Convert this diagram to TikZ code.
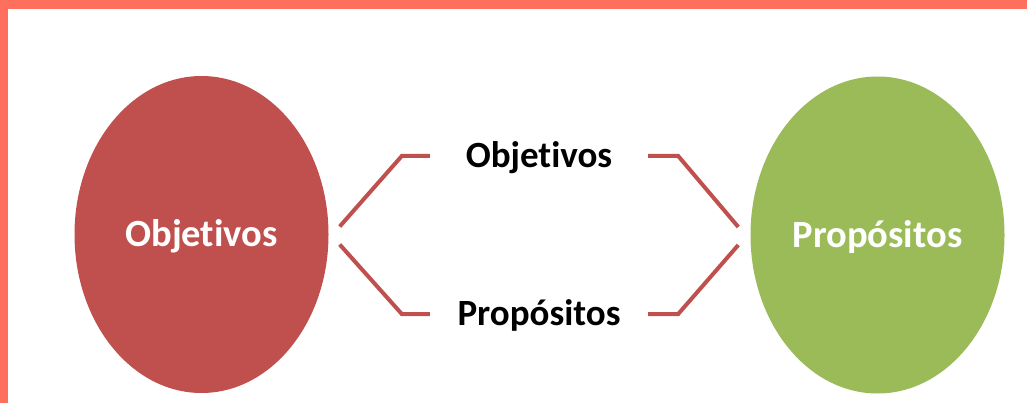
\documentclass[tikz,border=0pt]{standalone}
\usepackage{fontspec}
\setmainfont{Carlito}[Ligatures=NoCommon]
\usepackage{tikz}
\usetikzlibrary{shapes.geometric}
\definecolor{frame}{HTML}{FF6F5E}
\definecolor{redfill}{HTML}{C0504D}
\definecolor{greenfill}{HTML}{9BBB59}

\begin{document}
\begin{tikzpicture}[x=1pt, y=-1pt,
  blob/.style={ellipse, inner sep=0pt, minimum width=254pt, minimum height=317pt,
    text=white, font=\fontsize{38.5}{40}\selectfont\bfseries, text height=25pt, text depth=0pt},
  lbl/.style={inner sep=0pt, minimum width=218pt,
    font=\fontsize{37}{39}\selectfont\bfseries, text height=23.5pt, text depth=0pt},
  link/.style={draw=redfill, line width=4pt}]
\useasboundingbox (0,0) rectangle (1027,403);
\fill[frame] (0,0) rectangle (1027,9);
\fill[frame] (0,0) rectangle (8,403);
% circles
\node[blob, fill=redfill] (obj) at (201.5,234.5) {Objetivos};
\node[blob, fill=greenfill] (prop) at (877.5,235) {Propósitos};
% middle labels
\node[lbl] (objl) at (539,156) {Objetivos};
\node[lbl] (propl) at (539,314) {Propósitos};
% ends next to the circles
\coordinate (objU) at ([shift={(11,-8)}]obj.east);
\coordinate (objD) at ([shift={(11,10)}]obj.east);
\coordinate (propU) at ([shift={(-12,-8)}]prop.west);
\coordinate (propD) at ([shift={(-12,10)}]prop.west);
% edges
\draw[link] (objl.west) -- ++(-28,0) -- (objU);
\draw[link] (propl.west) -- ++(-28,0) -- (objD);
\draw[link] (objl.east) -- ++(30,0) -- (propU);
\draw[link] (propl.east) -- ++(30,0) -- (propD);
\end{tikzpicture}
\end{document}
